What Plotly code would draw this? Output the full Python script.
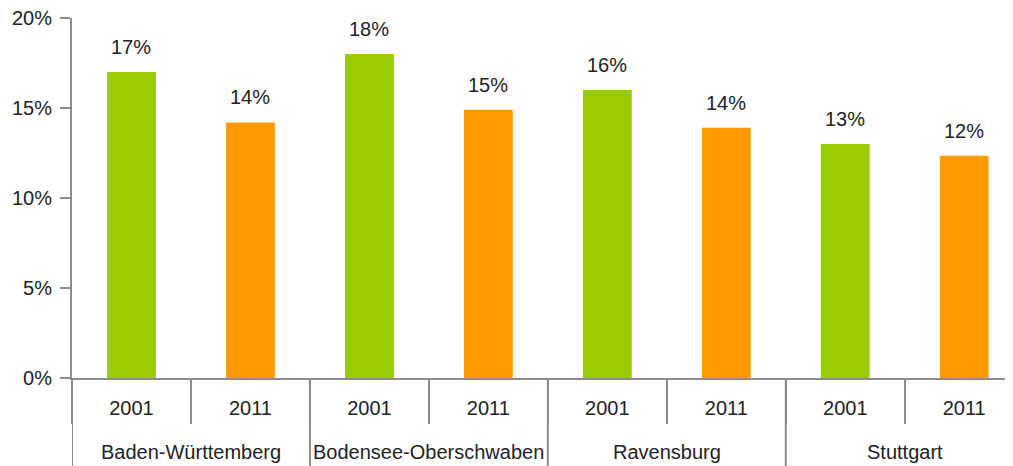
import plotly.graph_objects as go

regions = ["Baden-Württemberg", "Bodensee-Oberschwaben", "Ravensburg", "Stuttgart"]
years = ["2001", "2011"]
share_2001 = [17.0, 18.0, 16.0, 13.0]
share_2011 = [14.2, 14.9, 13.9, 12.35]
y_ticks = [0, 5, 10, 15, 20]

GREEN = "#99cc00"
ORANGE = "#ff9900"
AXIS = "#8c8c8c"
TXT = "#222222"
FONT = "Liberation Sans, Arial, sans-serif"

# flatten into one bar per (region, year)
pos, year_lbl, vals, colors = [], [], [], []
for r, a, b in zip(regions, share_2001, share_2011):
    for yr, v, c in zip(years, [a, b], [GREEN, ORANGE]):
        pos.append(len(pos))
        year_lbl.append(yr)
        vals.append(v)
        colors.append(c)

fig = go.Figure()
fig.add_trace(go.Bar(x=pos, y=vals, marker_color=colors, marker_line_width=0,
                     width=0.41, hoverinfo="skip"))

# value labels above the bars
for p, v in zip(pos, vals):
    fig.add_annotation(x=p, y=v, text=f"{round(v):.0f}%", showarrow=False,
                       yanchor="bottom", yshift=12,
                       font=dict(size=20, color=TXT, family=FONT))

# region labels and group dividers
n = len(years)
for g, r in enumerate(regions):
    fig.add_annotation(x=g * n + (n - 1) / 2, y=-0.205, xref="x", yref="paper",
                       text=r, showarrow=False, yanchor="middle",
                       font=dict(size=20, color=TXT, family=FONT))
for g in range(len(regions) + 1):
    fig.add_shape(type="line", xref="x", yref="paper", x0=g * n - 0.5, x1=g * n - 0.5,
                  y0=0, y1=-0.3, line=dict(color=AXIS, width=2))

# page body has an 8px margin, so the figure is sized/offset to compensate
fig.update_layout(
    width=1005, height=458,
    paper_bgcolor="white", plot_bgcolor="white",
    margin=dict(l=64, r=0, t=10, b=88),
    showlegend=False,
    font=dict(family=FONT, size=20, color=TXT),
)
fig.update_yaxes(range=[0, 20], tickvals=y_ticks, ticktext=[f"{t}%" for t in y_ticks],
                 showgrid=False, zeroline=False, showline=True, linecolor=AXIS,
                 linewidth=2, ticks="outside", ticklen=10, tickwidth=2, tickcolor=AXIS,
                 ticklabelstandoff=4, ticklabeloverflow="allow",
                 tickfont=dict(size=20, color=TXT))
fig.update_xaxes(range=[-0.5, len(pos) - 0.59], tickvals=pos, ticktext=year_lbl,
                 showgrid=False, zeroline=False, showline=True, linecolor=AXIS,
                 linewidth=2, ticks="", ticklabelstandoff=11,
                 tickfont=dict(size=20, color=TXT),
                 minor=dict(tick0=-0.5, dtick=1, ticks="outside", ticklen=44,
                            tickwidth=2, tickcolor=AXIS, showgrid=False))

fig.write_html("out.html")
